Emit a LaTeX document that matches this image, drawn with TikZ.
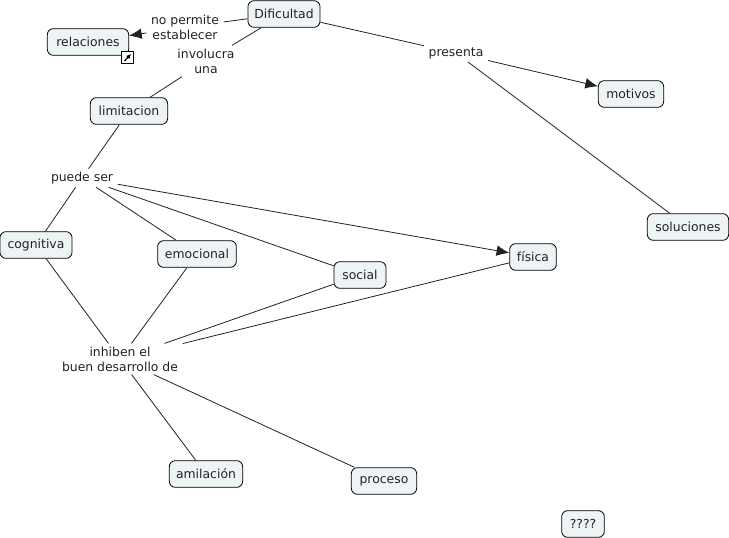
\documentclass[tikz,border=0pt]{standalone}
\usepackage{fontspec}
\setmainfont{DejaVu Sans}
\usetikzlibrary{arrows.meta}
\definecolor{conceptfill}{HTML}{EEF4F6}
\definecolor{inkgray}{HTML}{222222}
\begin{document}
\begin{tikzpicture}[x=0.75pt,y=-0.75pt,
    concept/.style={draw=black,fill=conceptfill,rounded corners=4.5pt,line width=0.6pt,
      font=\fontsize{9.3}{11}\selectfont,text=inkgray,inner xsep=0pt,inner ysep=0pt,minimum height=20pt},
    linking/.style={align=center,font=\fontsize{9.3}{11.2}\selectfont,text=inkgray,
      inner xsep=1pt,inner ysep=0pt,outer sep=2.5pt},
    conn/.style={draw=inkgray,line width=0.6pt},
    connarrow/.style={conn,-{Latex[length=9.5pt,width=8pt]}}]
    \useasboundingbox (0,0) rectangle (729,538);
    % concepts
    \node[concept,minimum width=54pt] (dificultad) at (284,14) {Dificultad};
    \node[concept,minimum width=61pt] (relaciones) at (88,42) {relaciones};
    \node[concept,minimum width=58pt] (limitacion) at (129,111) {limitacion};
    \node[concept,minimum width=54pt] (cognitiva) at (36,245) {cognitiva};
    \node[concept,minimum width=59pt] (emocional) at (197,254) {emocional};
    \node[concept,minimum width=39pt] (social) at (360,275) {social};
    \node[concept,minimum width=35pt] (fisica) at (533,257) {física};
    \node[concept,minimum width=49pt] (motivos) at (631,94) {motivos};
    \node[concept,minimum width=61pt] (soluciones) at (688,227) {soluciones};
    \node[concept,minimum width=55pt] (amilacion) at (206,474) {amilación};
    \node[concept,minimum width=49pt] (proceso) at (384,481) {proceso};
    \node[concept,minimum width=32pt] (pregunta) at (583,524) {????};
    % linking phrases
    \node[linking] (nopermite) at (185,27) {no permite\\establecer};
    \node[linking] (involucra) at (206,61) {involucra\\una};
    \node[linking] (presenta) at (456,53) {presenta};
    \node[linking] (puedeser) at (82,178) {puede ser};
    \node[linking] (inhiben) at (120,359) {inhiben el\\buen desarrollo de};
    % connectors
    \draw[conn] (dificultad) -- (nopermite);
    \draw[connarrow] (nopermite) -- (relaciones);
    \draw[conn] (dificultad) -- (involucra);
    \draw[conn] (involucra) -- (limitacion);
    \draw[conn] (dificultad) -- (presenta);
    \draw[connarrow] (presenta) -- (motivos);
    \draw[conn] (presenta) -- (soluciones);
    \draw[conn] (limitacion) -- (puedeser);
    \draw[conn] (puedeser) -- (cognitiva);
    \draw[conn] (puedeser) -- (emocional);
    \draw[conn] (puedeser) -- (social);
    \draw[connarrow] (puedeser) -- (fisica);
    \draw[conn] (cognitiva) -- (inhiben);
    \draw[conn] (emocional) -- (inhiben);
    \draw[conn] (social) -- (inhiben);
    \draw[conn] (fisica) -- (inhiben);
    \draw[conn] (inhiben) -- (amilacion);
    \draw[conn] (inhiben) -- (proceso);
    % link icon on relaciones
    \node[draw=black,fill=white,line width=0.6pt,minimum size=9.5pt,inner sep=0pt] (enlace) at (127.5,57.5) {};
    \coordinate (enlaceA) at (124.5,61);
    \coordinate (enlaceB) at (131,54);
    \draw[line width=0.9pt,-{Latex[length=3.5pt,width=3.5pt]}] (enlaceA) -- (enlaceB);
\end{tikzpicture}
\end{document}
